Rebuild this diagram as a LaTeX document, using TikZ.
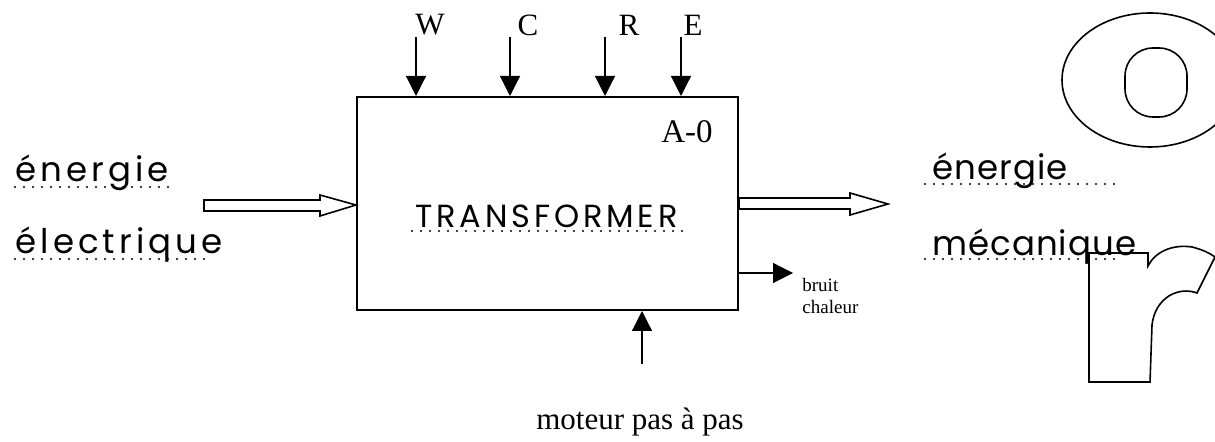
\documentclass[tikz,border=0pt]{standalone}
\usepackage{fontspec}
\setmainfont{Liberation Serif}
\newfontfamily\hand[LetterSpace=12]{Poppins}
\newfontfamily\handn[LetterSpace=3]{Poppins}
\usetikzlibrary{arrows.meta,fit,calc}
\begin{document}
\begin{tikzpicture}[x=0.5pt,y=-0.5pt,
  arr/.style={line width=0.6pt,-{Triangle[length=10pt,width=10pt]}},
  lbl/.style={font=\fontsize{15.5}{17}\selectfont, inner sep=0pt},
  small/.style={font=\fontsize{9.5}{11}\selectfont, inner sep=0pt, align=left},
  handtxt/.style={font=\hand\fontsize{17}{19}\selectfont, inner sep=0pt, anchor=base west},
  handnarrow/.style={handtxt, font=\handn\fontsize{17}{19}\selectfont},
  dots/.style={line width=1.1pt, line cap=round, dash pattern=on 0pt off 4.5pt},
  hollow/.style={line width=0.8pt, fill=white, line join=miter},
  outline/.style={line width=0.8pt}]
\useasboundingbox (0,0) rectangle (1215,442);
\clip (0,0) rectangle (1215,442);

% main box
\coordinate (b1) at (357,97);
\coordinate (b2) at (738,310);
\node[fit=(b1)(b2), inner sep=0pt, draw, line width=1pt] (box) {};
\node[font=\fontsize{16.5}{18}\selectfont, inner sep=0pt, anchor=base east] (a0) at (713,143) {A-0};
\node[handtxt, font=\hand\fontsize{16}{18}\selectfont] (tr) at (415,228) {TRANSFORMER};
\draw[dots] (412,231) -- (684,231);

% top controls
\foreach \x/\lx/\t/\n in {416/430/W/w, 510/528/C/c, 605/629/R/r, 681/693/E/e}{
  \coordinate (\n) at (\x,37);
  \node[lbl] (l\n) at (\lx,25) {\t};
  \draw[arr] (\n) -- (\n |- box.north);
}

% bottom mechanism
\coordinate (m) at (642,364);
\draw[arr] (m) -- (m |- box.south);
\node[lbl, anchor=base] (mot) at (640,430) {moteur pas à pas};

% bruit chaleur output
\coordinate (bc) at (793,273);
\draw[arr] (bc -| box.east) -- (bc);
\node[small, anchor=north west] (bruit) at (802,278) {bruit\\chaleur};

% input hollow arrow
\draw[hollow] (204,200) -- (320,200) -- (320,195) -- (box.west |- 0,205) -- (320,216) -- (320,211) -- (204,211) -- cycle;
% output hollow arrow
\draw[hollow] (box.east |- 0,198) -- (850,198) -- (850,193) -- (888,204) -- (850,215) -- (850,209) -- (box.east |- 0,209) -- cycle;

% handwritten labels
\node[handtxt] (e1) at (15,182) {énergie};
\draw[dots] (15,187) -- (172,187);
\node[handtxt] (e2) at (15,254) {électrique};
\draw[dots] (15,259) -- (212,259);
\node[handnarrow] (e3) at (932,180) {énergie};
\draw[dots] (925,184) -- (1115,184);
\node[handnarrow] (e4) at (932,256) {mécanique};
\draw[dots] (925,259) -- (1120,259);

% outline letters
\draw[outline] (1150,80) ellipse [x radius=88, y radius=67];
\draw[outline, rounded corners=14pt] (1125,48) rectangle (1187,117);
\draw[outline] (1089,382) -- (1089,253) -- (1148,253) -- (1148,266)
  .. controls (1155,252) and (1172,244) .. (1192,247)
  .. controls (1200,249) and (1208,252) .. (1215,257)
  -- (1197,293)
  .. controls (1178,286) and (1155,298) .. (1152,325)
  -- (1150,382) -- cycle;
\end{tikzpicture}
\end{document}
